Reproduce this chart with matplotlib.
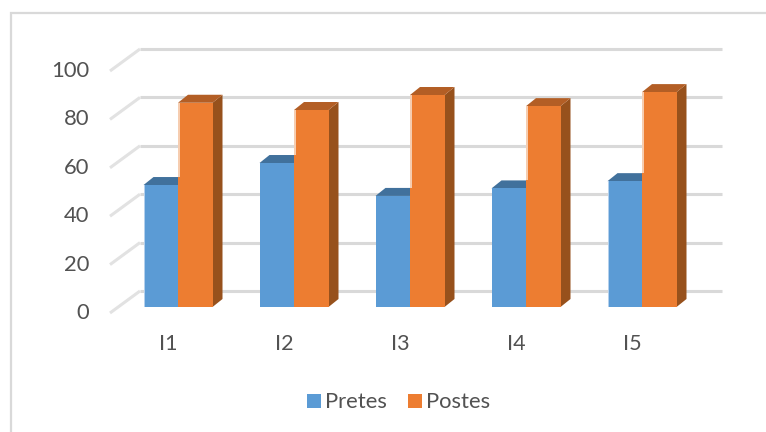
import matplotlib
matplotlib.use('Agg')
import matplotlib.pyplot as plt
from matplotlib.patches import Polygon, Rectangle

plt.rcParams['font.family'] = ['Lato', 'DejaVu Sans']

categories = ['I1', 'I2', 'I3', 'I4', 'I5']
pretes = [50.4, 59.5, 45.9, 49.0, 52.0]
postes = [84.4, 81.4, 87.6, 83.0, 88.8]
ticks = [0, 20, 40, 60, 80, 100]

W, H = 766, 432
PX_X = 116.0    # pixels per category
PX_Y = 2.42     # pixels per value unit
X0 = 178.0      # pixel x of the first category
Y0 = 307.0      # pixel y of value 0 on the bars

# depth of the 3D look, in data units
bar_w = 34.5 / PX_X
bar_dx = 10 / PX_X
bar_dy = 8 / PX_Y
floor_front = -6 / PX_Y
floor_back = 16 / PX_Y
wall_left = -38 / PX_X
wall_front_left = -68 / PX_X
wall_right = (722 - X0) / PX_X
edge_w = 1.5 / PX_X

text_color = '#525252'

fig = plt.figure(figsize=(W / 100, H / 100), dpi=100)
ax = fig.add_axes([0, 0, 1, 1])
ax.set_xlim(-X0 / PX_X, (W - X0) / PX_X)
ax.set_ylim((Y0 - H) / PX_Y, Y0 / PX_Y)
ax.axis('off')

# outer chart frame
ax.plot([ax.get_xlim()[1], (11 - X0) / PX_X, (11 - X0) / PX_X],
        [(Y0 - 13) / PX_Y, (Y0 - 13) / PX_Y, ax.get_ylim()[0]],
        color='#D9D9D9', lw=1.6, zorder=1, solid_joinstyle='miter')

# grid on the back wall and the slanted side wall
for t in ticks:
    ax.plot([wall_left, wall_right], [t + floor_back, t + floor_back],
            color='#D9D9D9', lw=2.2, zorder=2, solid_capstyle='butt')
    ax.plot([wall_front_left, wall_left], [t + floor_front, t + floor_back],
            color='#E2E2E2', lw=2.2, zorder=2, solid_capstyle='butt')
    ax.text(-89 / PX_X, t - 2.5, str(t), ha='right', va='center',
            fontsize=15.8, color=text_color, zorder=5)


def draw_bar(x, v, front, top, side, edge=None, edge_from=0):
    ax.add_patch(Polygon([(x + bar_w, 0), (x + bar_w + bar_dx, bar_dy),
                          (x + bar_w + bar_dx, v + bar_dy), (x + bar_w, v)],
                         fc=side, ec='none', zorder=3))
    ax.add_patch(Polygon([(x, v), (x + bar_dx, v + bar_dy),
                          (x + bar_w + bar_dx, v + bar_dy), (x + bar_w, v)],
                         fc=top, ec='none', zorder=3))
    ax.add_patch(Rectangle((x, 0), bar_w, v, fc=front, ec='none', zorder=4))
    # thin lighter edge on the left of the front face
    if edge:
        ax.add_patch(Rectangle((x, edge_from), edge_w, v - edge_from, fc=edge, ec='none', zorder=4))


for i, cat in enumerate(categories):
    draw_bar(i, postes[i], '#ED7D31', '#B35E25', '#97511C', '#F6CDB0', edge_from=pretes[i] + bar_dy)
    # only the outer blue bars keep the light edge
    blue_edge = '#B4D0EC' if i in (0, 4) else None
    draw_bar(i - bar_w, pretes[i], '#5B9BD5', '#41719C', '#41719C', blue_edge)
    ax.text(i - 0.08, (Y0 - 344) / PX_Y, cat, ha='center', va='center',
            fontsize=15.5, color=text_color, zorder=5)

# legend
leg_y = (Y0 - 401) / PX_Y
for px, color, name in [(307, '#5B9BD5', 'Pretes'), (408, '#ED7D31', 'Postes')]:
    ax.add_patch(Rectangle(((px - X0) / PX_X, leg_y - 7 / PX_Y), 14 / PX_X, 14 / PX_Y,
                           fc=color, ec='none', zorder=5))
    ax.text((px + 18 - X0) / PX_X, leg_y - 0.3, name, ha='left', va='center',
            fontsize=15.8, color=text_color, zorder=5)

fig.savefig('out.png', dpi=100, facecolor='white')
